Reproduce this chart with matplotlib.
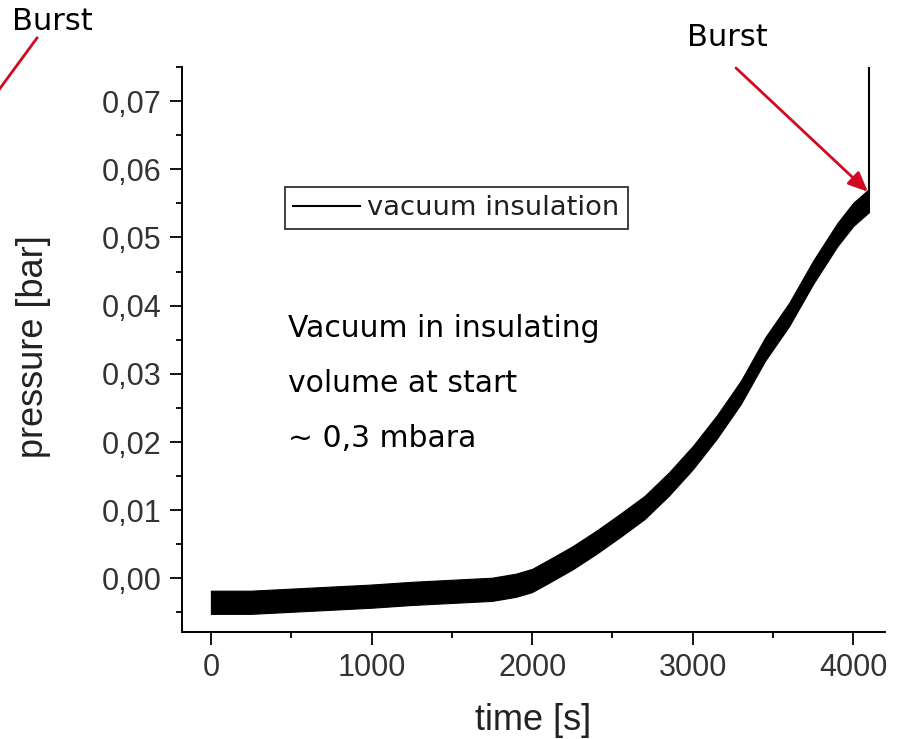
import matplotlib
matplotlib.use("Agg")
import matplotlib.pyplot as plt
from matplotlib.lines import Line2D
import numpy as np

# ---- data ----
time_s = [0, 250, 500, 750, 1000, 1250, 1500, 1750, 1900, 2000, 2100, 2250,
          2400, 2550, 2700, 2850, 3000, 3150, 3300, 3450, 3600, 3750, 3900,
          4000, 4097]
pressure_bar = [-0.0035, -0.0035, -0.0032, -0.0029, -0.0026, -0.0022, -0.0019,
                -0.0016, -0.0010, -0.0003, 0.0010, 0.0030, 0.0053, 0.0078,
                0.0104, 0.0138, 0.0177, 0.0222, 0.0273, 0.0336, 0.0387,
                0.0449, 0.0504, 0.0534, 0.0554]
noise_halfwidth = 0.0017          # half thickness of the noisy band
burst_time = 4097
burst_top = 0.09
series_label = "vacuum insulation"
x_ticks = [0, 1000, 2000, 3000, 4000]
y_ticks = [0.00, 0.01, 0.02, 0.03, 0.04, 0.05, 0.06, 0.07]
note_lines = ["Vacuum in insulating", "volume at start", "~ 0,3 mbara"]

W, H = 898, 739
fig = plt.figure(figsize=(W / 100, H / 100), dpi=100)
ax = fig.add_axes([182 / W, 1 - 632 / H, (885 - 182) / W, (632 - 67) / H])

t = np.array(time_s)
p = np.array(pressure_bar)
ax.fill_between(t, p - noise_halfwidth, p + noise_halfwidth, color="black",
                linewidth=0.8, edgecolor="black")
ax.plot([burst_time, burst_time], [pressure_bar[-1], burst_top], color="black",
        lw=1.5, label=series_label)

ax.set_xlim(-180, 4197)
ax.set_ylim(-0.00786, 0.075)

ax.spines["top"].set_visible(False)
ax.spines["right"].set_visible(False)
for s in ("left", "bottom"):
    ax.spines[s].set_linewidth(1.4)

ax.set_xticks(x_ticks)
ax.set_xticklabels([str(v) for v in x_ticks])
ax.set_xticks([500, 1500, 2500, 3500], minor=True)
ax.set_yticks(y_ticks)
ax.set_yticklabels([f"{v:.2f}".replace(".", ",") for v in y_ticks])
ax.set_yticks([-0.005, 0.005, 0.015, 0.025, 0.035, 0.045, 0.055, 0.065, 0.075],
              minor=True)
ax.tick_params(which="major", direction="out", length=9, width=1.3,
               labelsize=22, labelcolor="#333333")
ax.tick_params(which="minor", direction="out", length=4.5, width=1.3)
ax.tick_params(axis="x", which="major", pad=6)
ax.tick_params(axis="y", which="major", pad=6)
for lab in ax.get_xticklabels() + ax.get_yticklabels():
    lab.set_fontfamily("Liberation Sans")

ax.set_xlabel("time [s]", fontsize=26, family="Liberation Sans",
              color="#222222", va="baseline")
ax.xaxis.set_label_coords(0.5, (632 - 730) / 565)
ax.set_ylabel("pressure [bar]", fontsize=26, family="Liberation Sans",
              color="#222222", va="baseline")
ax.yaxis.set_label_coords((43 - 182) / 703, 0.506)

leg = ax.legend(loc="upper left", bbox_to_anchor=(285 / W, 1 - 187 / H),
                bbox_transform=fig.transFigure, borderaxespad=0,
                fancybox=False, frameon=True, handlelength=2.45,
                handletextpad=0.25, borderpad=0.3,
                prop={"family": "DejaVu Sans", "size": 19.7})
leg.get_frame().set_edgecolor("black")
leg.get_frame().set_linewidth(1.3)
for txt in leg.get_texts():
    txt.set_color("#202020")

# annotation text block
for i, line in enumerate(note_lines):
    fig.text(288 / W, 1 - (336.7 + 55 * i) / H, line, fontsize=21.5,
             family="DejaVu Sans", color="black", va="baseline", ha="left")

red = "#d10a22"
fig.text(687 / W, 1 - 46 / H, "Burst", fontsize=22, family="DejaVu Sans",
         color="black", va="baseline", ha="left")
fig.text(12 / W, 1 - 30 / H, "Burst", fontsize=22, family="DejaVu Sans",
         color="black", va="baseline", ha="left")

ax.annotate("", xy=(4091, 0.0567), xycoords="data",
            xytext=(736, H - 68), textcoords="figure pixels",
            arrowprops=dict(arrowstyle="-|>,head_length=0.8,head_width=0.35",
                            color=red, lw=2, shrinkA=0, shrinkB=0,
                            mutation_scale=15),
            annotation_clip=False)
fig.add_artist(Line2D([37 / W, -10 / W], [1 - 38 / H, 1 - 102 / H],
                      color=red, lw=2))

fig.savefig("out.png", dpi=100)
